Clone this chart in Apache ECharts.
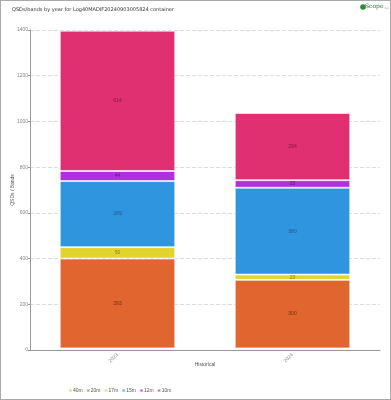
<!DOCTYPE html>
<html><head><meta charset="utf-8">
<script src="https://cdn.jsdelivr.net/npm/echarts@6/dist/echarts.min.js"></script>
<style>
html,body{margin:0;padding:0;background:#fff;}
#c{position:absolute;left:0;top:0;width:389px;height:398px;border:1px solid #aaa;border-width:1px 1px 2px 1px;}
</style></head><body>
<div id="c"></div>
<script>
const title = 'QSDs/bands by year for Log40MADIF20240903005824 container';
const years = ['2023', '2024'];
const bands = ['40m', '20m', '17m', '15m', '12m', '10m'];
const v40m = [7, 7];
const v20m = [393, 300];
const v17m = [50, 23];
const v15m = [289, 380];
const v12m = [44, 33];
const v10m = [614, 294];
const colors = ['#c4dc4a', '#e0652e', '#e2d42c', '#2f95de', '#b22fe0', '#e03071'];
const labelColors = ['#6a7a20', '#7a3010', '#8a8010', '#1c5a88', '#5a1a78', '#7a1a40'];
const values = [v40m, v20m, v17m, v15m, v12m, v10m];

const chart = echarts.init(document.getElementById('c'));
chart.setOption({
  animation: false,
  color: colors,
  title: {text: title, left: 6, top: 1, textStyle: {fontSize: 5, fontWeight: 'normal', color: '#333', fontFamily: 'DejaVu Sans'}},
  graphic: [
    {type: 'circle', shape: {cx: 362, cy: 6, r: 2.8}, style: {fill: '#2f8a3a'}},
    {type: 'text', left: 364, top: 2, style: {text: 'Scope', fontSize: 6, fill: '#2f7a2f', fontFamily: 'DejaVu Serif'}},
    {type: 'text', left: 383, top: 6, style: {text: '.org', fontSize: 2.5, fill: '#8a8', fontFamily: 'DejaVu Sans'}}
  ],
  legend: {left: 62, bottom: 1, itemWidth: 3, itemHeight: 3, itemGap: 3, icon: 'rect',
    textStyle: {fontSize: 5, color: '#555', padding: [0,0,0,-4]}, data: bands},
  grid: {left: 29, right: 10, top: 29, bottom: 49, containLabel: false, outerBoundsMode: 'none'},
  xAxis: {type: 'category', data: years, name: 'Historical', nameLocation: 'middle', nameGap: 12,
    nameMoveOverlap: false,
    nameTextStyle: {fontSize: 5, color: '#555'},
    axisLine: {lineStyle: {color: '#999', width: 1}}, axisTick: {show: false},
    axisLabel: {rotate: 45, fontSize: 5, color: '#888', margin: 4}},
  yAxis: {type: 'value', min: 0, max: 1400, interval: 200, name: 'QSDs / Bands', nameLocation: 'middle', nameGap: 15,
    nameMoveOverlap: false,
    nameTextStyle: {fontSize: 5, color: '#555'},
    axisLine: {show: true, lineStyle: {color: '#999'}}, axisTick: {show: true, length: 2, lineStyle: {color: '#999'}},
    axisLabel: {fontSize: 5, color: '#888', margin: 2, formatter: v => String(v)},
    splitLine: {lineStyle: {type: 'dashed', color: '#ddd'}}},
  series: bands.map((b, i) => ({
    name: b, type: 'bar', stack: 'total', barWidth: '66%', data: values[i],
    itemStyle: {borderColor: 'rgba(255,255,255,0.6)', borderWidth: 1},
    label: {show: i > 0, position: 'inside', fontSize: 5, color: labelColors[i]}
  }))
});
</script></body></html>
